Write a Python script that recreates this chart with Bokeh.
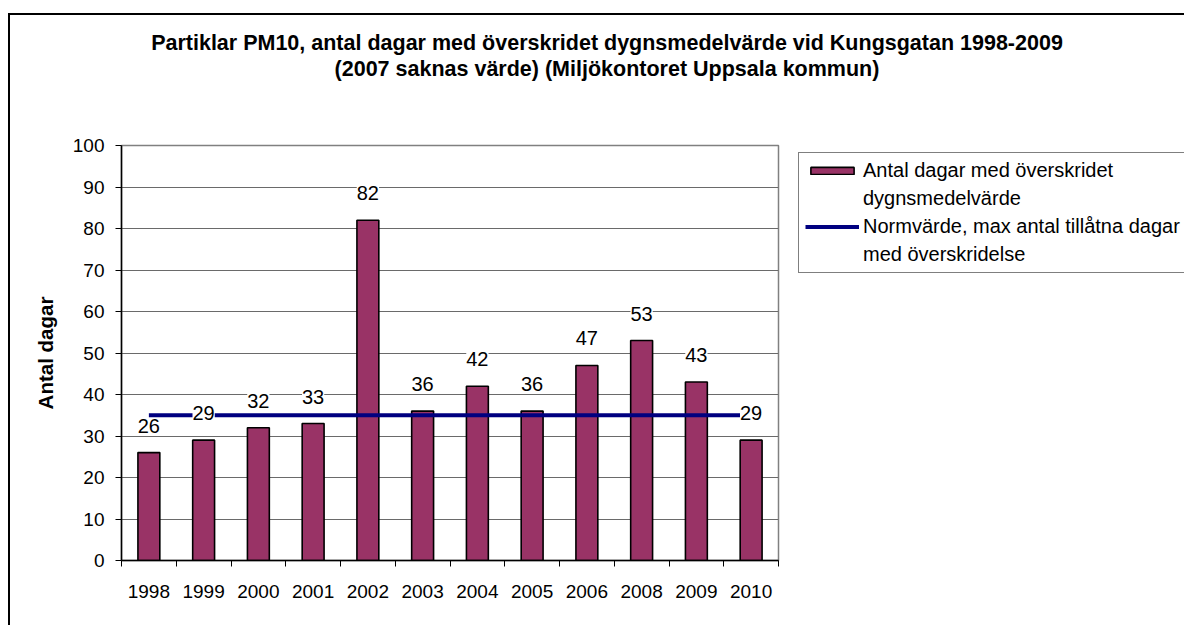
from bokeh.plotting import figure
from bokeh.layouts import column
from bokeh.models import (ColumnDataSource, LabelSet, Legend, LegendItem,
                          FixedTicker, Range1d, Div)
from bokeh.core.properties import value
from bokeh.embed import file_html
from bokeh.resources import INLINE

# ---- data ----
years = ["1998", "1999", "2000", "2001", "2002", "2003", "2004", "2005",
         "2006", "2008", "2009", "2010"]
days = [26, 29, 32, 33, 82, 36, 42, 36, 47, 53, 43, 29]
norm = [35, 35, 35, 35, 35, 35, 35, 35, 35, 35, 35, 35]
y_ticks = [0, 10, 20, 30, 40, 50, 60, 70, 80, 90, 100]

title1 = "Partiklar PM10, antal dagar med överskridet dygnsmedelvärde vid Kungsgatan 1998-2009"
title2 = "(2007 saknas värde) (Miljökontoret Uppsala kommun)"
series1 = ["Antal dagar med överskridet", "dygnsmedelvärde"]
series2 = ["Normvärde, max antal tillåtna dagar", "med överskridelse"]
y_title = "Antal dagar"

FONT = "Liberation Sans"
BAR = "#993366"
NAVY = "#000080"

xs = [i + 0.5 for i in range(len(years))]
src = ColumnDataSource(dict(x=xs, days=days, norm=norm,
                            lab=[str(d) for d in days]))

p = figure(frame_width=657, frame_height=415,
           min_border_left=111, min_border_top=63,
           min_border_right=406, min_border_bottom=65,
           x_range=Range1d(0, len(years)), y_range=Range1d(0, 100),
           output_backend="svg", toolbar_location=None,
           background_fill_color="white", border_fill_color="white")

bars = p.vbar(x="x", top="days", width=0.4, source=src,
              fill_color=BAR, line_color="black", line_width=1.6)
line = p.line(x="x", y="norm", source=src, line_color=NAVY, line_width=3.8)
blank = p.line(x=[], y=[], line_alpha=0)

labels = LabelSet(x="x", y="days", text="lab", source=src, y_offset=27,
                  text_align="center", text_baseline="middle",
                  text_font=value(FONT), text_font_size="20px",
                  text_color="black", background_fill_color="white")
p.add_layout(labels)

# axes
p.xgrid.visible = False
p.ygrid.ticker = FixedTicker(ticks=y_ticks)
p.ygrid.grid_line_color = "#6a6a6a"
p.ygrid.grid_line_width = 1

p.yaxis.ticker = FixedTicker(ticks=y_ticks)
p.yaxis.axis_line_color = "black"
p.yaxis.axis_line_width = 1.5
p.yaxis.major_tick_line_color = "black"
p.yaxis.major_tick_out = 6
p.yaxis.major_tick_in = 0
p.yaxis.minor_tick_line_color = None
p.yaxis.major_label_standoff = 11
p.yaxis.major_label_text_font = FONT
p.yaxis.major_label_text_font_size = "19px"
p.yaxis.major_label_text_color = "black"
p.yaxis.axis_label = y_title
p.yaxis.axis_label_text_font = FONT
p.yaxis.axis_label_text_font_style = "bold"
p.yaxis.axis_label_text_font_size = "20.5px"
p.yaxis.axis_label_text_color = "black"
p.yaxis.axis_label_standoff = 13

p.xaxis.ticker = FixedTicker(ticks=xs, minor_ticks=list(range(len(years) + 1)))
p.xaxis.major_label_overrides = {x: y for x, y in zip(xs, years)}
p.xaxis.axis_line_color = "black"
p.xaxis.axis_line_width = 1.5
p.xaxis.major_tick_line_color = None
p.xaxis.major_tick_out = 0
p.xaxis.major_tick_in = 0
p.xaxis.minor_tick_line_color = "black"
p.xaxis.minor_tick_out = 6
p.xaxis.minor_tick_in = 0
p.xaxis.major_label_standoff = 18
p.xaxis.major_label_text_font = FONT
p.xaxis.major_label_text_font_size = "19px"
p.xaxis.major_label_text_color = "black"

p.outline_line_color = "#808080"
p.outline_line_width = 1.5

legend = Legend(items=[LegendItem(label=series1[0], renderers=[bars]),
                       LegendItem(label=series1[1], renderers=[blank]),
                       LegendItem(label=series2[0], renderers=[line]),
                       LegendItem(label=series2[1], renderers=[blank])],
                location=(20, 287), orientation="vertical",
                border_line_color="black", border_line_width=1,
                background_fill_color="white", background_fill_alpha=1,
                label_text_font=FONT, label_text_font_size="20px",
                label_text_color="black", label_height=23,
                glyph_width=54, glyph_height=9, label_standoff=4,
                padding=6, spacing=5, margin=0)
p.add_layout(legend, "right")

title = Div(text=title1 + "<br>" + title2, width=1000, height=52,
            margin=(15, 0, 0, 97),
            styles={"text-align": "center", "font-family": FONT,
                    "font-weight": "bold", "font-size": "21.5px",
                    "line-height": "26px", "color": "black",
                    "white-space": "nowrap"})

page = column(title, p, spacing=0,
              styles={"margin-left": "8px", "margin-top": "13px",
                      "border-left": "2px solid black",
                      "border-top": "2px solid black"})

open("out.html", "w").write(file_html(page, INLINE))
